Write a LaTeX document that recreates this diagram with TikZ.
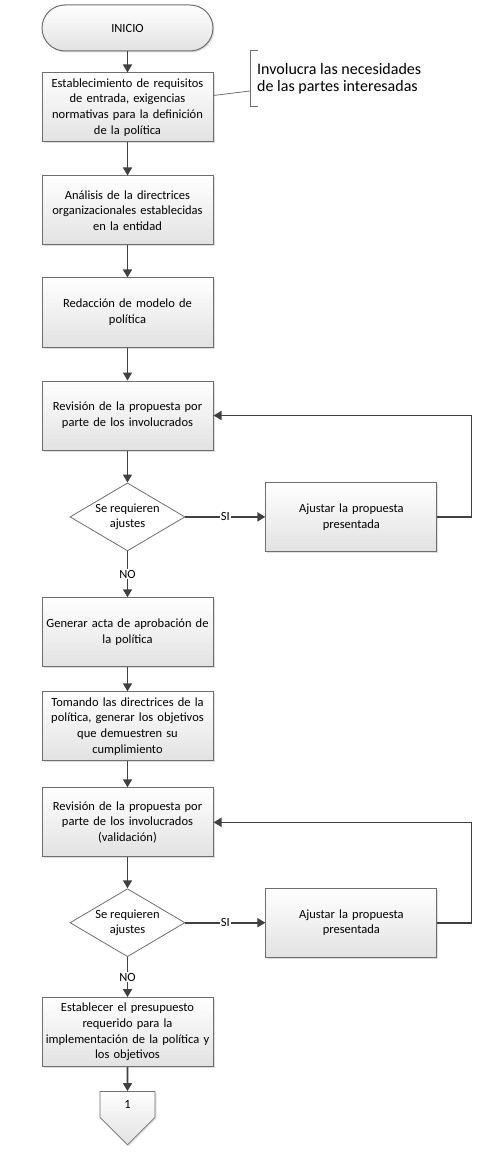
\documentclass[tikz,border=0pt]{standalone}
\usepackage{fontspec}
\setmainfont{Carlito}
\usepackage{tikz}
\usetikzlibrary{shapes,arrows,positioning,calc,shadows,arrows.meta}
\definecolor{linegray}{HTML}{404040}
\definecolor{edgegray}{HTML}{6E6E6E}
\definecolor{boxgray}{HTML}{E2E2E2}

\begin{document}
\begin{tikzpicture}[x=1pt, y=1pt, >={Triangle[length=8pt,width=9pt]},
    proc/.style={draw=edgegray, line width=1pt, top color=white, bottom color=boxgray, minimum width=171pt, minimum height=69pt, text width=170pt, inner xsep=0pt, inner ysep=2pt, align=center, font=\fontsize{12.5}{15.7}\selectfont, drop shadow={shadow xshift=1.5pt, shadow yshift=-1.5pt, fill=black!25}},
    term/.style={proc, rounded corners=23pt, minimum height=46pt},
    dec/.style={diamond, draw=edgegray, line width=0.8pt, fill=white, aspect=1.7, minimum width=115pt, minimum height=68pt, inner sep=0pt, align=center, font=\fontsize{12.5}{15.7}\selectfont},
    conn/.style={signal, signal to=south, signal pointer angle=90, draw=edgegray, line width=0.8pt, top color=white, bottom color=boxgray, minimum width=55pt, minimum height=29pt, inner sep=0pt, font=\fontsize{12.5}{15.7}\selectfont, drop shadow={shadow xshift=1.5pt, shadow yshift=-1.5pt, fill=black!20}},
    nota/.style={anchor=west, align=left, minimum height=55pt, inner xsep=7pt, font=\fontsize{16}{17}\selectfont},
    flow/.style={->, draw=linegray, line width=1.6pt},
    lbl/.style={fill=white, inner sep=1pt, font=\fontsize{12.5}{14}\selectfont}]
    \useasboundingbox (0,0) rectangle (479,-1155);

    \node [term] (ini) at (127.5,-28) {INICIO};
    \node [proc, below=21pt of ini] (est) {Establecimiento de requisitos\\de entrada, exigencias\\normativas para la definición\\de la política};
    \node [proc, below=33pt of est] (ana) {Análisis de la directrices\\organizacionales establecidas\\en la entidad};
    \node [proc, below=32pt of ana] (red) {Redacción de modelo de\\política};
    \node [proc, below=33pt of red] (rev1) {Revisión de la propuesta por\\parte de los involucrados};
    \node [dec, below=32pt of rev1] (aj1) {Se requieren\\ajustes};
    \node [proc, right=80pt of aj1] (adj1) {Ajustar la propuesta\\presentada};
    \node [proc, below=46pt of aj1] (acta) {Generar acta de aprobación de\\la política};
    \node [proc, below=24pt of acta] (obj) {Tomando las directrices de la\\política, generar los objetivos\\que demuestren su\\cumplimiento};
    \node [proc, below=26pt of obj] (rev2) {Revisión de la propuesta por\\parte de los involucrados\\(validación)};
    \node [dec, below=31pt of rev2] (aj2) {Se requieren\\ajustes};
    \node [proc, right=80pt of aj2] (adj2) {Ajustar la propuesta\\presentada};
    \node [proc, below=40pt of aj2] (pres) {Establecer el presupuesto\\requerido para la\\implementación de la política y\\los objetivos};
    \node [conn, below=24pt of pres] (pag) {1};
    \node [nota] (inv) at (250,-78.5) {Involucra las necesidades\\de las partes interesadas};

    \draw [flow] (ini) -- (est);
    \draw [flow] (est) -- (ana);
    \draw [flow] (ana) -- (red);
    \draw [flow] (red) -- (rev1);
    \draw [flow] (rev1) -- (aj1);
    \draw [flow] (aj1) -- node [lbl] {SI} (adj1);
    \draw [flow] (adj1.east) -- ++(34,0) |- (rev1.east);
    \draw [flow] (aj1) -- node [lbl] {NO} (acta);
    \draw [flow] (acta) -- (obj);
    \draw [flow] (obj) -- (rev2);
    \draw [flow] (rev2) -- (aj2);
    \draw [flow] (aj2) -- node [lbl] {SI} (adj2);
    \draw [flow] (adj2.east) -- ++(34,0) |- (rev2.east);
    \draw [flow] (aj2) -- node [lbl] {NO} (pres);
    \draw [flow] (pres) -- (pag);

    \draw [edgegray, line width=0.8pt] ([xshift=8pt]inv.north west) -| (inv.south west) -- ++(8,0);
    \draw [edgegray, line width=0.8pt] ([yshift=12pt]est.east) -- ([yshift=-12.5pt]inv.west);
\end{tikzpicture}
\end{document}
